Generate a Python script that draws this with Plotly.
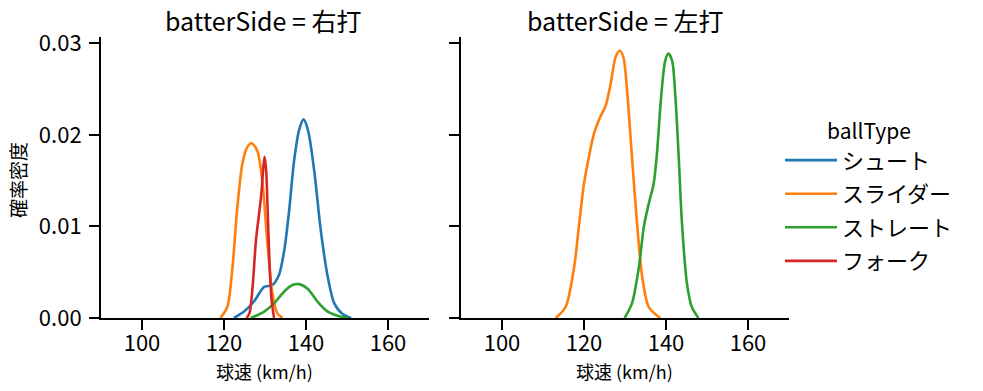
import plotly.graph_objects as go

ball_types = ["シュート", "スライダー", "ストレート", "フォーク"]
colors = ["#1f77b4", "#ff7f0e", "#2ca02c", "#d62728"]
x_ticks = [100, 120, 140, 160]
y_ticks = [0.0, 0.01, 0.02, 0.03]
y_tick_labels = ["0.00", "0.01", "0.02", "0.03"]

# 右打 panel
r_shoot_x = [122.4, 124.9, 127.3, 129.8, 131.8, 133.4, 134.7, 135.9, 137.1, 138.3, 139.4, 140.5, 142.0, 143.6, 145.3, 146.9, 149.0, 151.0]
r_shoot_y = [0.0, 0.0007, 0.0018, 0.0034, 0.0036, 0.0047, 0.0074, 0.0118, 0.0172, 0.0205, 0.0217, 0.0205, 0.0161, 0.0096, 0.0045, 0.0016, 0.0004, 0.0]
r_slider_x = [119.1, 120.8, 122.0, 123.2, 124.5, 125.7, 126.7, 128.1, 129.4, 130.6, 131.8, 133.0, 134.3]
r_slider_y = [0.0, 0.0012, 0.0052, 0.0118, 0.0169, 0.0187, 0.0191, 0.0183, 0.0147, 0.0081, 0.0027, 0.0005, 0.0]
r_straight_x = [126.5, 129.8, 132.2, 134.7, 136.7, 138.3, 140.4, 142.8, 145.3, 148.1, 150.2]
r_straight_y = [0.0, 0.0007, 0.0016, 0.0029, 0.0036, 0.0037, 0.0032, 0.0018, 0.0007, 0.0002, 0.0]
r_fork_x = [125.5, 126.2, 126.9, 127.8, 128.5, 129.1, 129.6, 129.9, 130.3, 130.7, 131.1, 131.6, 132.2]
r_fork_y = [0.0, 0.0005, 0.003, 0.0085, 0.0112, 0.0135, 0.0165, 0.0176, 0.016, 0.011, 0.006, 0.002, 0.0]

# 左打 panel
l_slider_x = [113.1, 115.5, 117.6, 118.8, 120.0, 121.2, 122.4, 124.0, 125.3, 126.5, 127.7, 128.7, 129.6, 130.5, 131.7, 133.0, 134.2, 135.8, 138.6]
l_slider_y = [0.0, 0.0012, 0.0056, 0.0102, 0.0147, 0.0176, 0.0201, 0.022, 0.0232, 0.0256, 0.0285, 0.0292, 0.0285, 0.0249, 0.0176, 0.010, 0.0045, 0.0012, 0.0]
l_straight_x = [129.9, 131.7, 133.4, 134.6, 135.8, 137.0, 137.8, 138.8, 139.8, 140.6, 141.5, 142.3, 143.1, 143.9, 145.1, 146.3, 147.9]
l_straight_y = [0.0, 0.0016, 0.0056, 0.010, 0.0125, 0.0147, 0.018, 0.0241, 0.0281, 0.0289, 0.0281, 0.0241, 0.0176, 0.0103, 0.0038, 0.0012, 0.0]

W, H = 983, 391
FONT = "Noto Sans CJK JP"

fig = go.Figure()

def add(name, xs, ys, axis, show):
    i = ball_types.index(name)
    fig.add_trace(go.Scatter(
        x=xs, y=ys, mode="lines", name=name, legendgroup=name, showlegend=show,
        line=dict(color=colors[i], width=2.6, shape="spline", smoothing=0.8),
        xaxis="x" if axis == 1 else "x2", yaxis="y" if axis == 1 else "y2",
    ))

add("シュート", r_shoot_x, r_shoot_y, 1, True)
add("スライダー", r_slider_x, r_slider_y, 1, True)
add("ストレート", r_straight_x, r_straight_y, 1, True)
add("フォーク", r_fork_x, r_fork_y, 1, True)
add("スライダー", l_slider_x, l_slider_y, 2, False)
add("ストレート", l_straight_x, l_straight_y, 2, False)

def px(x):
    return x / W

def py(y):
    return 1 - y / H

axis_common = dict(showline=True, linecolor="black", linewidth=2, ticks="outside",
                   ticklen=10, tickwidth=2, tickcolor="black", showgrid=False,
                   zeroline=False, automargin=False,
                   tickfont=dict(size=22, color="black", family=FONT))

fig.update_layout(
    template="none",
    width=W, height=H, margin=dict(l=0, r=0, t=0, b=0, pad=0),
    paper_bgcolor="white", plot_bgcolor="white",
    font=dict(family=FONT, color="black"),
    xaxis=dict(domain=[px(101), px(429)], range=[90, 170], tickvals=x_ticks,
               anchor="y", ticklabelstandoff=-5, **axis_common),
    yaxis=dict(domain=[py(318), py(37)], range=[0, 0.0307], tickvals=y_ticks,
               ticktext=y_tick_labels, anchor="x", ticklabelstandoff=3, **axis_common),
    xaxis2=dict(domain=[px(461), px(789)], range=[90, 170], tickvals=x_ticks,
                anchor="y2", ticklabelstandoff=-5, **axis_common),
    yaxis2=dict(domain=[py(318), py(37)], range=[0, 0.0307], tickvals=y_ticks,
                showticklabels=False, anchor="x2", matches="y", **axis_common),
    showlegend=True,
    legend=dict(x=px(780), y=py(112), xanchor="left", yanchor="top",
                font=dict(size=22, family=FONT, color="black"),
                title=dict(text="ballType", side="top center",
                           font=dict(size=21, family=FONT, color="black")),
                itemwidth=52, tracegroupgap=2, bgcolor="rgba(0,0,0,0)"),
)

annos = [
    dict(text="batterSide = 右打", x=px(263), y=py(20)),
    dict(text="batterSide = 左打", x=px(625), y=py(20)),
]
for a in annos:
    fig.add_annotation(xref="paper", yref="paper", showarrow=False,
                       xanchor="center", yanchor="middle",
                       font=dict(size=25, family=FONT, color="black"), **a)
for xc in (264, 624):
    fig.add_annotation(text="球速 (km/h)", xref="paper", yref="paper", x=px(xc), y=py(371),
                       xanchor="center", yanchor="middle", showarrow=False,
                       font=dict(size=18, family=FONT, color="black"))
fig.add_annotation(text="確率密度", xref="paper", yref="paper", x=px(18), y=py(180),
                   xanchor="center", yanchor="middle", showarrow=False, textangle=-90,
                   font=dict(size=19, family=FONT, color="black"))

# the page body has a default 8px margin; remove it so the figure fills the window
fig.write_html("out.html", config={"displayModeBar": False},
               post_script="document.body.style.margin='0';")
